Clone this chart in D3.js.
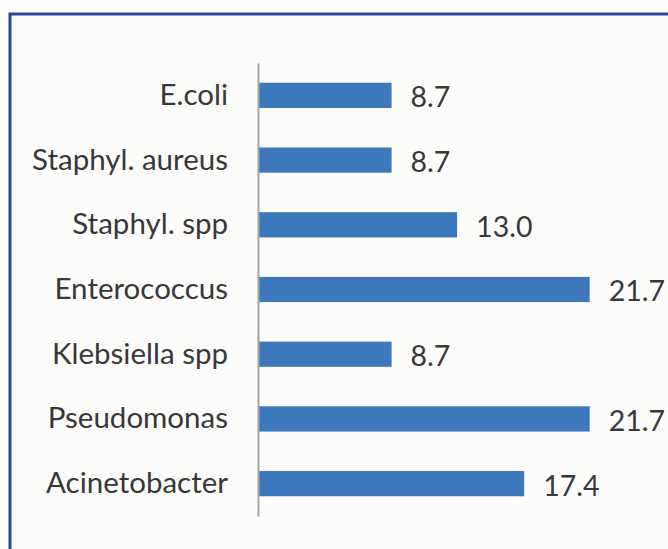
<!DOCTYPE html>
<html>
<head>
<meta charset="utf-8">
<script src="https://cdn.jsdelivr.net/npm/d3@7"></script>
<style>
  body { margin: 0; background: #ffffff; }
  svg { display: block; }
</style>
</head>
<body>
<script>
// Data
const organisms = ["E.coli", "Staphyl. aureus", "Staphyl. spp", "Enterococcus",
                   "Klebsiella spp", "Pseudomonas", "Acinetobacter"];
const percents = [8.7, 8.7, 13.0, 21.7, 8.7, 21.7, 17.4];

const rows = organisms.map((name, i) => ({ name: name, value: percents[i] }));

let width = 668,
    height = 549;

let svg = d3.select("body")
    .append("svg")
    .attr("width", width)
    .attr("height", height);

// Frame around the figure (runs off the right and bottom edges)
svg.append("rect")
    .attr("x", 10)
    .attr("y", 14)
    .attr("width", 700)
    .attr("height", 600)
    .attr("fill", "#fcfcfb")
    .attr("stroke", "#2b4796")
    .attr("stroke-width", 3);

// Scales
let xScale = d3.scaleLinear()
    .domain([0, 25])
    .range([259, 640]);

let yScale = d3.scaleBand()
    .domain(organisms)
    .range([63, 516])
    .paddingInner(0.61)
    .paddingOuter(0.305);

// Bars
svg.selectAll("rect.bar")
    .data(rows)
    .enter().append("rect")
    .attr("class", "bar")
    .attr("x", xScale(0))
    .attr("y", d => yScale(d.name))
    .attr("width", d => xScale(d.value) - xScale(0))
    .attr("height", yScale.bandwidth())
    .attr("fill", "#3d78bc");

// Vertical axis line, no ticks
let yAxis = svg.append("g")
    .attr("transform", `translate(${xScale(0) - 1},0)`)
    .call(d3.axisLeft(yScale).tickSize(0).tickPadding(30).tickSizeOuter(0));

yAxis.select(".domain")
    .attr("stroke", "#a3a3a3")
    .attr("stroke-width", 2);

yAxis.selectAll("text")
    .attr("fill", "#383838")
    .attr("dy", "0.32em")
    .style("font-family", "Lato, 'Open Sans', sans-serif")
    .style("font-size", "29.5px");

// Value labels
svg.selectAll("text.value")
    .data(rows)
    .enter().append("text")
    .attr("class", "value")
    .attr("x", d => xScale(d.value) + 19)
    .attr("y", d => yScale(d.name) + yScale.bandwidth() / 2)
    .attr("dy", "0.42em")
    .attr("fill", "#383838")
    .style("font-family", "Lato, 'Open Sans', sans-serif")
    .style("font-size", "28.5px")
    .text(d => d.value.toFixed(1));
</script>
</body>
</html>
